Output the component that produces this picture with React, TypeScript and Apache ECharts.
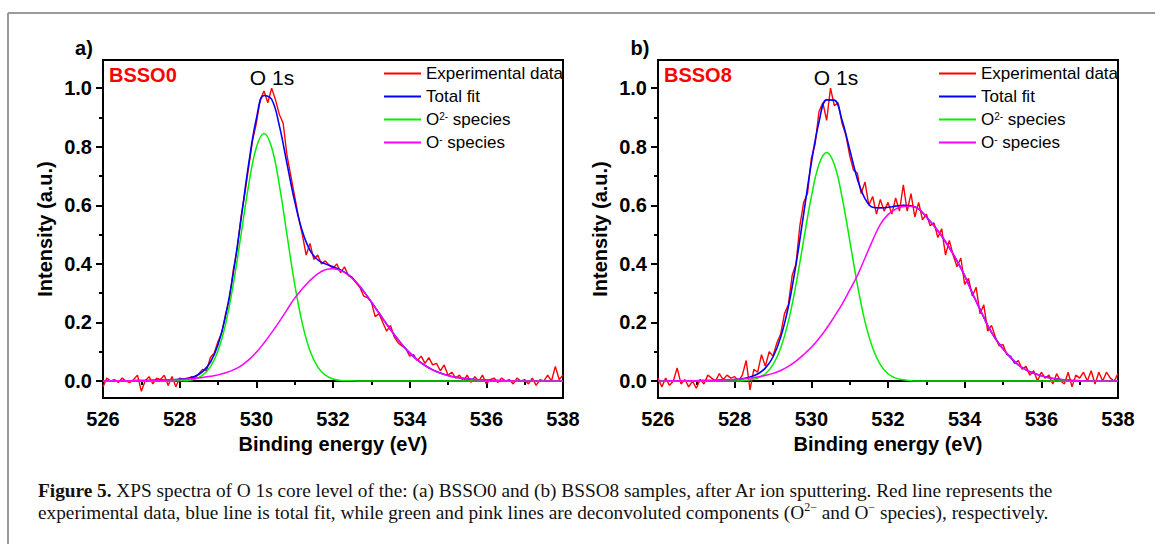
import React, { useEffect, useRef } from "react";
import * as echarts from "echarts";

// ---------- data ----------
const E_MIN = 526;
const E_MAX = 538;
const EXP_STEP = 0.1; // experimental points spacing (eV)
const FIT_STEP = 0.2; // fit curve spacing (eV)

const xMajorTicks = [526, 528, 530, 532, 534, 536, 538];
const yTickLabels = [0.0, 0.2, 0.4, 0.6, 0.8, 1.0];
const yMinorTicks = [0.1, 0.3, 0.5, 0.7, 0.9];
const seriesNames = ["Experimental data", "Total fit", "O2- species", "O- species"];

// Panel a) BSSO0 — experimental data, 526.0 … 538.0 eV every 0.1 eV
const expA = [
  -0.02, 0.01, 0.0, 0.005, -0.005, 0.01, 0.0, -0.005, 0.005, 0.02,
  -0.035, 0.0, 0.015, -0.01, 0.01, 0.005, 0.02, -0.015, 0.015, -0.02,
  0.01, 0.005, 0.0, 0.015, 0.01, 0.025, 0.04, 0.035, 0.08, 0.095,
  0.135, 0.165, 0.23, 0.28, 0.38, 0.45, 0.56, 0.64, 0.73, 0.82,
  0.88, 0.96, 0.99, 0.95, 1.0, 0.96, 0.91, 0.88, 0.77, 0.7,
  0.63, 0.56, 0.5, 0.43, 0.47, 0.415, 0.43, 0.4, 0.41, 0.395,
  0.385, 0.4, 0.37, 0.39, 0.36, 0.355, 0.335, 0.32, 0.29, 0.285,
  0.27, 0.22, 0.23, 0.2, 0.17, 0.19, 0.15, 0.13, 0.12, 0.11,
  0.085, 0.09, 0.07, 0.085, 0.06, 0.08, 0.055, 0.06, 0.035, 0.055,
  0.02, 0.03, 0.01, 0.02, 0.0, 0.02, -0.005, 0.015, 0.0, 0.02,
  -0.01, 0.005, 0.01, -0.005, 0.01, 0.0, 0.005, -0.01, 0.01, 0.0,
  0.005, -0.01, 0.01, -0.015, 0.005, 0.0, 0.02, 0.0, 0.05, 0.005,
  0.02,
];
// Panel a) fit curves, 526.0 … 538.0 eV every 0.2 eV
const totalA = [
  0.0, 0.001, 0.001, 0.001, 0.001, 0.002, 0.002, 0.003, 0.003, 0.004,
  0.006, 0.009, 0.016, 0.032, 0.064, 0.124, 0.224, 0.369, 0.551, 0.741,
  0.895, 0.975, 0.962, 0.872, 0.742, 0.614, 0.511, 0.446, 0.414, 0.4,
  0.39, 0.379, 0.363, 0.338, 0.306, 0.27, 0.232, 0.194, 0.158, 0.125,
  0.096, 0.072, 0.053, 0.038, 0.027, 0.019, 0.013, 0.009, 0.006, 0.004,
  0.003, 0.002, 0.001, 0.001, 0.0, 0.0, 0.0, 0.0, 0.0, 0.0,
  0.0,
];
const o2A = [
  0, 0, 0, 0, 0, 0, 0, 0, 0, 0,
  0.001, 0.002, 0.007, 0.02, 0.048, 0.103, 0.196, 0.331, 0.499, 0.669,
  0.797, 0.845, 0.797, 0.669, 0.499, 0.331, 0.196, 0.103, 0.048, 0.02,
  0.007, 0.002, 0.001, 0, 0, 0, 0, 0, 0, 0,
  0, 0, 0, 0, 0, 0, 0, 0, 0, 0,
  0, 0, 0, 0, 0, 0, 0, 0, 0, 0,
  0,
];
const o1A = [
  0.0, 0.001, 0.001, 0.001, 0.001, 0.002, 0.002, 0.003, 0.003, 0.004,
  0.005, 0.007, 0.009, 0.012, 0.016, 0.021, 0.028, 0.038, 0.052, 0.072,
  0.098, 0.13, 0.165, 0.203, 0.243, 0.283, 0.315, 0.343, 0.366, 0.38,
  0.383, 0.377, 0.362, 0.338, 0.306, 0.27, 0.232, 0.194, 0.158, 0.125,
  0.096, 0.072, 0.053, 0.038, 0.027, 0.019, 0.013, 0.009, 0.006, 0.004,
  0.003, 0.002, 0.001, 0.001, 0.0, 0.0, 0.0, 0.0, 0.0, 0.0,
  0.0,
];

// Panel b) BSSO8 — experimental data, 526.0 … 538.0 eV every 0.1 eV
const expB = [
  0.01, -0.02, 0.01, -0.015, 0.0, 0.045, -0.01, 0.005, -0.02, 0.0,
  -0.025, 0.005, -0.01, 0.02, 0.01, 0.0, 0.025, 0.005, 0.02, 0.01,
  0.015, 0.0, 0.02, 0.07, -0.03, 0.04, 0.03, 0.09, 0.05, 0.1,
  0.085, 0.13, 0.16, 0.23, 0.26, 0.36, 0.4, 0.53, 0.61, 0.64,
  0.76, 0.81, 0.92, 0.95, 0.89, 1.0, 0.94, 0.95, 0.88, 0.84,
  0.77, 0.72, 0.71, 0.64, 0.68, 0.6, 0.63, 0.57, 0.62, 0.58,
  0.61, 0.57, 0.625, 0.58, 0.67, 0.58, 0.64, 0.56, 0.61, 0.55,
  0.57, 0.53, 0.54, 0.49, 0.52, 0.43, 0.48, 0.43, 0.39, 0.42,
  0.33, 0.35, 0.29, 0.32, 0.23, 0.26, 0.17, 0.19, 0.15, 0.12,
  0.125, 0.09, 0.085, 0.06, 0.07, 0.04, 0.05, 0.02, 0.035, 0.0,
  0.03, 0.01, 0.02, -0.01, 0.025, 0.0, -0.01, 0.03, -0.02, 0.02,
  0.01, 0.03, 0.0, 0.035, -0.01, 0.03, 0.0, 0.03, 0.01, 0.0,
  0.025,
];
// Panel b) fit curves, 526.0 … 538.0 eV every 0.2 eV
const totalB = [
  0.0, 0.0, 0.001, 0.001, 0.001, 0.001, 0.002, 0.002, 0.003, 0.004,
  0.005, 0.008, 0.014, 0.024, 0.044, 0.082, 0.149, 0.253, 0.398, 0.571,
  0.744, 0.884, 0.96, 0.959, 0.891, 0.791, 0.69, 0.623, 0.593, 0.591,
  0.593, 0.597, 0.6, 0.598, 0.588, 0.56, 0.53, 0.495, 0.455, 0.41,
  0.36, 0.3, 0.245, 0.19, 0.145, 0.11, 0.08, 0.055, 0.038, 0.027,
  0.018, 0.011, 0.007, 0.004, 0.002, 0.001, 0.0, 0.0, 0.0, 0.0,
  0.0,
];
const o2B = [
  0, 0, 0, 0, 0, 0, 0, 0, 0, 0,
  0, 0.001, 0.004, 0.01, 0.025, 0.056, 0.113, 0.203, 0.33, 0.481,
  0.629, 0.739, 0.78, 0.739, 0.629, 0.481, 0.33, 0.203, 0.113, 0.056,
  0.025, 0.01, 0.004, 0.001, 0, 0, 0, 0, 0, 0,
  0, 0, 0, 0, 0, 0, 0, 0, 0, 0,
  0, 0, 0, 0, 0, 0, 0, 0, 0, 0,
  0,
];
const o1B = [
  0.0, 0.0, 0.001, 0.001, 0.001, 0.001, 0.002, 0.002, 0.003, 0.004,
  0.005, 0.007, 0.01, 0.014, 0.019, 0.026, 0.036, 0.05, 0.068, 0.09,
  0.115, 0.145, 0.18, 0.22, 0.262, 0.31, 0.36, 0.42, 0.48, 0.535,
  0.568, 0.587, 0.596, 0.597, 0.588, 0.56, 0.53, 0.495, 0.455, 0.41,
  0.36, 0.3, 0.245, 0.19, 0.145, 0.11, 0.08, 0.055, 0.038, 0.027,
  0.018, 0.011, 0.007, 0.004, 0.002, 0.001, 0.0, 0.0, 0.0, 0.0,
  0.0,
];

// ---------- helpers ----------
const SANS = "'Liberation Sans', Arial, Helvetica, sans-serif";
const SERIF = "'Liberation Serif', 'Times New Roman', serif";
const Y_MIN = -0.058;
const Y_MAX = 1.096;

const toPairs = (vals: number[], step: number) =>
  vals.map((v, i) => [Math.round((E_MIN + i * step) * 100) / 100, v]);

const COLORS = ["#ff0000", "#0000ff", "#00ee00", "#ff00ff"];

function panelSeries(
  exp: number[],
  total: number[],
  o2: number[],
  o1: number[],
  xi: number,
  yi: number
) {
  const base = {
    type: "line",
    symbol: "none",
    xAxisIndex: xi,
    yAxisIndex: yi,
    animation: false,
    emphasis: { disabled: true },
  };
  return [
    { ...base, name: seriesNames[0], data: toPairs(exp, EXP_STEP), lineStyle: { color: COLORS[0], width: 1.4 }, itemStyle: { color: COLORS[0] } },
    { ...base, name: seriesNames[1], data: toPairs(total, FIT_STEP), smooth: 0.4, lineStyle: { color: COLORS[1], width: 1.6 }, itemStyle: { color: COLORS[1] } },
    { ...base, name: seriesNames[2], data: toPairs(o2, FIT_STEP), smooth: 0.4, lineStyle: { color: COLORS[2], width: 1.5 }, itemStyle: { color: COLORS[2] } },
    { ...base, name: seriesNames[3], data: toPairs(o1, FIT_STEP), smooth: 0.4, lineStyle: { color: COLORS[3], width: 1.5 }, itemStyle: { color: COLORS[3] } },
  ];
}

function xAxisFor(gridIndex: number) {
  return {
    type: "value",
    gridIndex,
    min: E_MIN,
    max: E_MAX,
    interval: 2,
    axisLine: { show: true, lineStyle: { color: "#000", width: 2 } },
    axisTick: { show: true, length: 7, lineStyle: { color: "#000", width: 2 } },
    minorTick: { show: true, splitNumber: 2, length: 4, lineStyle: { color: "#000", width: 2 } },
    splitLine: { show: false },
    minorSplitLine: { show: false },
    axisLabel: {
      color: "#000",
      fontSize: 20,
      fontWeight: "bold",
      fontFamily: SANS,
      margin: 11,
      customValues: xMajorTicks,
    },
    name: "Binding energy (eV)",
    nameLocation: "middle",
    nameGap: 33,
    nameTextStyle: { color: "#000", fontSize: 20, fontWeight: "bold", fontFamily: SANS },
  };
}

function yAxesFor(gridIndex: number) {
  return [
    {
      type: "value",
      gridIndex,
      min: Y_MIN,
      max: Y_MAX,
      position: "left",
      axisLine: { show: true, lineStyle: { color: "#000", width: 2 } },
      axisTick: { show: true, length: 7, customValues: yTickLabels, lineStyle: { color: "#000", width: 2 } },
      splitLine: { show: false },
      axisLabel: {
        color: "#000",
        fontSize: 20,
        fontWeight: "bold",
        fontFamily: SANS,
        margin: 11,
        customValues: yTickLabels,
        formatter: (v: number) => v.toFixed(1),
      },
      name: "Intensity (a.u.)",
      nameLocation: "middle",
      nameGap: 48,
      nameTextStyle: { color: "#000", fontSize: 20, fontWeight: "bold", fontFamily: SANS },
    },
    {
      type: "value",
      gridIndex,
      min: Y_MIN,
      max: Y_MAX,
      position: "left",
      offset: 0,
      axisLine: { show: false },
      axisTick: { show: true, length: 4, customValues: yMinorTicks, lineStyle: { color: "#000", width: 2 } },
      splitLine: { show: false },
      axisLabel: { show: false },
    },
  ];
}

function legendFor(left: number) {
  return {
    left,
    top: 65,
    padding: 0,
    orient: "vertical",
    itemWidth: 37,
    itemHeight: 14,
    itemGap: 6,
    selectedMode: false,
    itemStyle: { opacity: 0 },
    data: seriesNames,
    formatter: (name: string) => {
      if (name === "O2- species") return "{t|O}{s|2-}{t| species}";
      if (name === "O- species") return "{t|O}{s|-}{t| species}";
      return "{t|" + name + "}";
    },
    textStyle: {
      color: "#000",
      fontFamily: SANS,
      fontSize: 17,
      padding: [0, 0, 0, 0],
      rich: {
        t: { fontSize: 17, fontFamily: SANS, color: "#000", lineHeight: 16 },
        s: { fontSize: 10, fontFamily: SANS, color: "#000", lineHeight: 10, verticalAlign: "top" },
      },
    },
  };
}

function panelTexts(labelX: number, axisLeft: number, sample: string, o1sX: number) {
  return [
    {
      type: "text",
      x: labelX,
      y: 48,
      style: { text: sample === "BSSO0" ? "a)" : "b)", fill: "#000", font: `bold 20px ${SANS}`, textAlign: "center", textVerticalAlign: "middle" },
    },
    {
      type: "text",
      x: axisLeft + 6,
      y: 75,
      style: { text: sample, fill: "#ff0000", font: `bold 20px ${SANS}`, textAlign: "left", textVerticalAlign: "middle" },
    },
    {
      type: "text",
      x: o1sX,
      y: 77,
      style: { text: "O 1s", fill: "#000", font: `21px ${SANS}`, textAlign: "center", textVerticalAlign: "middle" },
    },
  ];
}

export default function App() {
  const ref = useRef<HTMLDivElement>(null);

  useEffect(() => {
    if (!ref.current) return;
    const chart = echarts.init(ref.current, undefined, { renderer: "svg" });

    const option = {
      animation: false,
      backgroundColor: "#fff",
      grid: [
        { left: 103, top: 60, width: 460, height: 338, show: true, borderColor: "#000", borderWidth: 2, backgroundColor: "transparent" },
        { left: 658, top: 60, width: 460, height: 338, show: true, borderColor: "#000", borderWidth: 2, backgroundColor: "transparent" },
      ],
      xAxis: [xAxisFor(0), xAxisFor(1)],
      yAxis: [...yAxesFor(0), ...yAxesFor(1)],
      legend: [legendFor(383), legendFor(938)],
      series: [
        ...panelSeries(expA, totalA, o2A, o1A, 0, 0),
        ...panelSeries(expB, totalB, o2B, o1B, 1, 2),
      ],
      graphic: [
        { type: "line", shape: { x1: 8, y1: 13, x2: 1155, y2: 13 }, style: { stroke: "#9a9a9a", lineWidth: 2 } },
        { type: "line", shape: { x1: 8, y1: 13, x2: 8, y2: 544 }, style: { stroke: "#9a9a9a", lineWidth: 2 } },
        ...panelTexts(84, 103, "BSSO0", 272),
        ...panelTexts(640, 658, "BSSO8", 836),
        {
          type: "text",
          x: 38,
          y: 490,
          style: {
            text: "{b|Figure 5.} XPS spectra of O 1s core level of the: (a) BSSO0 and (b) BSSO8 samples, after Ar ion sputtering. Red line represents the",
            fill: "#111",
            font: `19.3px ${SERIF}`,
            textVerticalAlign: "middle",
            rich: {
              b: { fontWeight: "bold", fontSize: 19.3, fontFamily: SERIF, fill: "#111" },
            },
          },
        },
        {
          type: "text",
          x: 38,
          y: 512,
          style: {
            text: "experimental data, blue line is total fit, while green and pink lines are deconvoluted components (O{s|2−} and O{s|−} species), respectively.",
            fill: "#111",
            font: `19.3px ${SERIF}`,
            lineHeight: 22,
            textVerticalAlign: "middle",
            rich: {
              s: { fontSize: 12, fontFamily: SERIF, fill: "#111", lineHeight: 12, verticalAlign: "top" },
            },
          },
        },
      ],
    };

    chart.setOption(option as any);
    return () => chart.dispose();
  }, []);

  return (
    <div
      ref={ref}
      style={{ position: "fixed", left: 0, top: 0, width: 1155, height: 544, background: "#fff" }}
    />
  );
}
